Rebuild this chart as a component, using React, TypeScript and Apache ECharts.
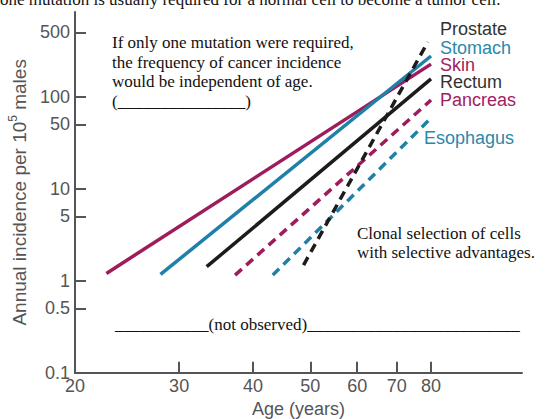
import React, { useEffect, useRef } from "react";
import * as echarts from "echarts";

// ---- data ----
const seriesNames = ["Skin", "Stomach", "Rectum", "Pancreas", "Esophagus", "Prostate"];
const startAges = [22.6, 27.9, 33.4, 37.3, 43.2, 48.7];
const endAges = [80, 80, 80, 80, 80, 79];
const startIncidence = [1.2, 1.17, 1.42, 1.15, 1.15, 1.48];
const endIncidence = [226, 277, 156, 92, 58.7, 393];

const xTicks = [20, 30, 40, 50, 60, 70, 80];
const yTicks = [0.1, 0.5, 1, 5, 10, 50, 100, 500];
const xRange = [20, 114];
const yRange = [0.1, 833];

// ---- styles ----
const MAGENTA = "#9e1b5c";
const TEAL = "#1f80a8";
const BLACK = "#1c1c1c";
const seriesStyle: Record<string, { color: string; dashed: boolean; label: string }> = {
  Skin: { color: MAGENTA, dashed: false, label: "#a3205f" },
  Stomach: { color: TEAL, dashed: false, label: "#2b88aa" },
  Rectum: { color: BLACK, dashed: false, label: "#333333" },
  Pancreas: { color: MAGENTA, dashed: true, label: "#a3205f" },
  Esophagus: { color: TEAL, dashed: true, label: "#2b88aa" },
  Prostate: { color: BLACK, dashed: true, label: "#333333" },
};
const labelPos: Record<string, [number, number]> = {
  Prostate: [440, 29],
  Stomach: [440, 48],
  Skin: [440, 65],
  Rectum: [440, 82],
  Pancreas: [440, 100],
  Esophagus: [424, 138],
};

const SANS = '"Liberation Sans", Arial, Helvetica, sans-serif';
const SERIF = '"Liberation Serif", "Times New Roman", serif';
const AXIS = "#555555";

const lg = (v: number) => Math.log10(v);
const fmt = (ticks: number[]) => (v: number) => {
  const t = ticks.find((k) => Math.abs(lg(k) - v) < 1e-6);
  return t === undefined ? "" : String(t);
};

export default function App() {
  const ref = useRef<HTMLDivElement>(null);
  useEffect(() => {
    if (!ref.current) return;
    const chart = echarts.init(ref.current, undefined, { renderer: "svg" });

    const series = seriesNames.map((name, i) => {
      const st = seriesStyle[name];
      return {
        name,
        type: "line",
        symbol: "none",
        data: [
          [lg(startAges[i]), lg(startIncidence[i])],
          [lg(endAges[i]), lg(endIncidence[i])],
        ],
        lineStyle: {
          color: st.color,
          width: 3.5,
          type: st.dashed ? [9, 6] : "solid",
          cap: "butt",
        },
        z: 2 + i,
      };
    });

    const serifText = (text: string, x: number, y: number) => ({
      type: "text",
      x,
      y,
      style: {
        text,
        fill: "#111",
        font: `17px ${SERIF}`,
        align: "left",
        verticalAlign: "middle",
      },
    });

    const graphics: any[] = [
      serifText("one mutation is usually required for a normal cell to become a tumor cell.", 0, -0.5),
      serifText("If only one mutation were required,", 112, 42.3),
      serifText("the frequency of cancer incidence", 112, 62),
      serifText("would be independent of age.", 112, 81.7),
      serifText("(_______________)", 112, 101.4),
      serifText("Clonal selection of cells", 357, 233),
      serifText("with selective advantages.", 357, 252.6),
      serifText("___________(not observed)_________________________", 115, 324.5),
      ...seriesNames.map((name) => ({
        type: "text",
        x: labelPos[name][0],
        y: labelPos[name][1],
        style: {
          text: name,
          fill: seriesStyle[name].label,
          font: `18px ${SANS}`,
          lineHeight: 15,
          align: "left",
          verticalAlign: "middle",
        },
      })),
    ];

    chart.setOption({
      animation: false,
      backgroundColor: "#ffffff",
      grid: {
        left: 75,
        right: 24,
        top: 12,
        bottom: 46.3,
        containLabel: false,
        outerBoundsMode: "none",
      },
      xAxis: {
        type: "value",
        min: lg(xRange[0]),
        max: lg(xRange[1]),
        name: "Age (years)",
        nameLocation: "middle",
        nameGap: 27,
        nameTextStyle: { fontSize: 18, color: AXIS, fontFamily: SANS, verticalAlign: "top" },
        axisLine: { show: true, onZero: false, lineStyle: { color: AXIS, width: 2 } },
        axisTick: {
          show: true,
          inside: true,
          length: 11,
          lineStyle: { color: AXIS, width: 2 },
          customValues: xTicks.map(lg),
        },
        axisLabel: {
          show: true,
          customValues: xTicks.map(lg),
          formatter: fmt(xTicks),
          color: AXIS,
          fontSize: 18,
          fontFamily: SANS,
          margin: 4,
        },
        splitLine: { show: false },
      },
      yAxis: {
        type: "value",
        min: lg(yRange[0]),
        max: lg(yRange[1]),
        name: "{b|Annual incidence per 10}{sup|5}{b| males}",
        nameLocation: "middle",
        nameGap: 40,
        nameTextStyle: {
          color: AXIS,
          fontFamily: SANS,
          fontSize: 19,
          rich: {
            b: { fontSize: 19, lineHeight: 26, color: AXIS, fontFamily: SANS },
            sup: { fontSize: 12, lineHeight: 12, verticalAlign: "top", color: AXIS, fontFamily: SANS },
          },
        },
        axisLine: { show: true, onZero: false, lineStyle: { color: AXIS, width: 2 } },
        axisTick: {
          show: true,
          inside: true,
          length: 11,
          lineStyle: { color: AXIS, width: 2 },
          customValues: yTicks.map(lg),
        },
        axisLabel: {
          show: true,
          customValues: yTicks.map(lg),
          formatter: fmt(yTicks),
          color: AXIS,
          fontSize: 18,
          fontFamily: SANS,
          margin: 5,
        },
        splitLine: { show: false },
      },
      series,
      graphic: graphics,
    } as any);

    return () => chart.dispose();
  }, []);

  return (
    <div
      ref={ref}
      style={{ position: "fixed", left: 0, top: 0, width: 546, height: 419, background: "#fff" }}
    />
  );
}
